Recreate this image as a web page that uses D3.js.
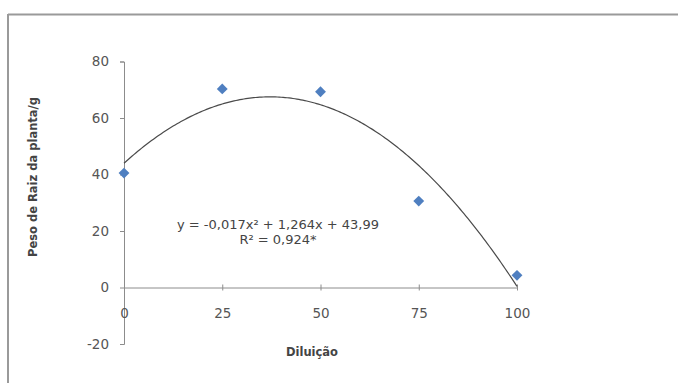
<!DOCTYPE html>
<html>
<head>
<meta charset="utf-8">
<script src="https://cdn.jsdelivr.net/npm/d3@7"></script>
<style>
  html, body { margin: 0; padding: 0; background: #fff; }
  svg { display: block; }
  text { font-family: "DejaVu Sans", Verdana, sans-serif; }
</style>
</head>
<body>
<svg id="chart" width="678" height="383"></svg>
<script>
// Dilution levels and measured root weight per plant (g)
const diluicao = [0, 25, 50, 75, 100];
const pesoRaiz = [40.5, 70.3, 69.3, 30.6, 4.3];
const xTicks = [0, 25, 50, 75, 100];
const yTicks = [-20, 0, 20, 40, 60, 80];
// Quadratic fit coefficients: y = a x^2 + b x + c
const coefA = -0.017, coefB = 1.264, coefC = 43.99;
const equationLines = ["y = -0,017x² + 1,264x + 43,99", "R² = 0,924*"];

const svg = d3.select("#chart");

// chart frame
svg.append("line").attr("x1", 8).attr("x2", 678).attr("y1", 14.5).attr("y2", 14.5)
  .attr("stroke", "#9a9a9a").attr("stroke-width", 2);
svg.append("line").attr("x1", 8).attr("x2", 8).attr("y1", 14).attr("y2", 383)
  .attr("stroke", "#9a9a9a").attr("stroke-width", 2);

const x = d3.scaleLinear().domain([0, 100]).range([124, 517]);
const y = d3.scaleLinear().domain([-20, 80]).range([344, 61.5]);

const grey = "#8c8c8c";
const labelColor = "#555";
const tickFont = "13.5px";

// y axis
const yAxis = svg.append("g").attr("transform", `translate(${x(0)},0)`)
  .call(d3.axisLeft(y).tickValues(yTicks).tickSize(4).tickPadding(11).tickFormat(d => String(d)));
yAxis.select(".domain").attr("stroke", grey);
yAxis.selectAll(".tick line").attr("stroke", grey);
yAxis.selectAll(".tick text").attr("fill", labelColor).style("font-size", tickFont)
  .style("font-family", "'DejaVu Sans', Verdana, sans-serif");

// x axis drawn through y = 0
const xAxis = svg.append("g").attr("transform", `translate(0,${y(0)})`)
  .call(d3.axisBottom(x).tickValues(xTicks).tickSize(0).tickPadding(21).tickFormat(d => String(d)));
xAxis.select(".domain").attr("stroke", grey);
xAxis.selectAll(".tick text").attr("fill", labelColor).style("font-size", tickFont)
  .style("font-family", "'DejaVu Sans', Verdana, sans-serif");
// short tick marks crossing the axis
xAxis.selectAll(".tick").filter(d => d !== 0).append("line")
  .attr("y1", -3).attr("y2", 3).attr("stroke", grey);

// axis titles
svg.append("text").attr("x", 312).attr("y", 356).attr("text-anchor", "middle")
  .attr("fill", "#444").style("font-size", "11.5px").style("font-weight", "bold")
  .text("Diluição");
svg.append("text").attr("transform", `translate(37,177) rotate(-90)`)
  .attr("text-anchor", "middle").attr("fill", "#444")
  .style("font-size", "11.5px").style("font-weight", "bold")
  .text("Peso de Raiz da planta/g");

// fitted polynomial trend line
const fitX = d3.range(0, 100.01, 0.5);
const line = d3.line().x(d => x(d)).y(d => y(coefA * d * d + coefB * d + coefC));
svg.append("path").datum(fitX).attr("d", line)
  .attr("fill", "none").attr("stroke", "#4a4a4a").attr("stroke-width", 1.2);

// data markers
svg.selectAll("path.pt").data(diluicao).enter().append("path").attr("class", "pt")
  .attr("d", d3.symbol().type(d3.symbolDiamond2).size(75)())
  .attr("transform", (d, i) => `translate(${x(d)},${y(pesoRaiz[i])})`)
  .attr("fill", "#4f7fc0");

// regression equation
svg.append("text").attr("x", 278).attr("y", 229).attr("text-anchor", "middle")
  .attr("fill", "#444").style("font-size", "13px")
  .selectAll("tspan").data(equationLines).enter().append("tspan")
  .attr("x", 278).attr("dy", (d, i) => i === 0 ? 0 : 15).text(d => d);
</script>
</body>
</html>
